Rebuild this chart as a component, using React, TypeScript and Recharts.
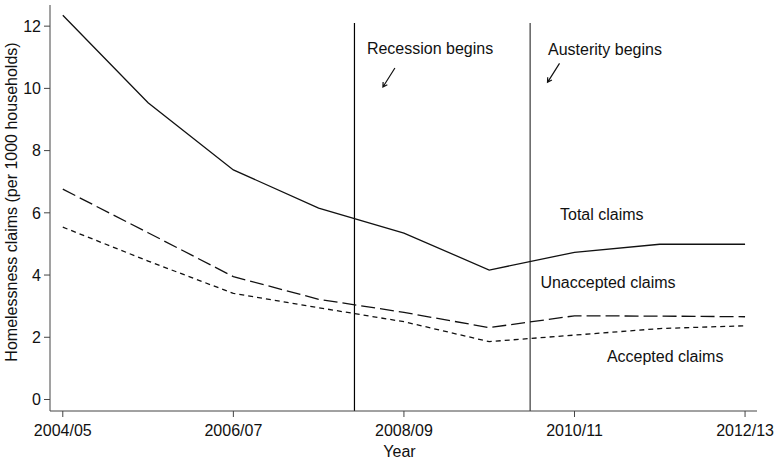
import {
  LineChart,
  Line,
  XAxis,
  YAxis,
  ReferenceLine,
  ReferenceDot,
} from "recharts";

const years = [
  "2004/05",
  "2005/06",
  "2006/07",
  "2007/08",
  "2008/09",
  "2009/10",
  "2010/11",
  "2011/12",
  "2012/13",
];
const totalClaims = [12.35, 9.54, 7.38, 6.15, 5.35, 4.16, 4.73, 4.99, 4.99];
const unacceptedClaims = [6.76, 5.36, 3.95, 3.22, 2.8, 2.31, 2.69, 2.68, 2.66];
const acceptedClaims = [5.54, 4.45, 3.41, 2.95, 2.5, 1.86, 2.07, 2.28, 2.37];
const yTicks = [0, 2, 4, 6, 8, 10, 12];
const xTicks = [0, 2, 4, 6, 8];

// events drawn as vertical lines (position in years from 2004/05)
const recessionAt = 3.42;
const austerityAt = 5.48;

const data = years.map((year, i) => ({
  i,
  year,
  total: totalClaims[i],
  unaccepted: unacceptedClaims[i],
  accepted: acceptedClaims[i],
}));

const Y_MIN = -0.37;
const Y_MAX = 12.68;
const FONT = "'Liberation Sans', Arial, sans-serif";
const AXIS = "#444";
const INK = "#111";

const notes = [
  { x: 3.566, y: 11.27, text: "Recession begins" },
  { x: 5.69, y: 11.24, text: "Austerity begins" },
  { x: 5.83, y: 5.96, text: "Total claims" },
  { x: 5.6, y: 3.75, text: "Unaccepted claims" },
  { x: 6.38, y: 1.37, text: "Accepted claims" },
];
const arrows = [
  { x: 3.824, y: 10.35 },
  { x: 5.754, y: 10.5 },
];

const Arrow = (p: any) => {
  const { cx, cy } = p;
  const tx = cx - 6;
  const ty = cy + 9.5;
  return (
    <path
      d={`M${cx + 6},${cy - 9.5} L${tx},${ty} M${tx + 4.4},${ty - 2.3} L${tx},${ty} L${tx + 0.2},${ty - 5}`}
      stroke={INK}
      strokeWidth={1.2}
      fill="none"
    />
  );
};

export default function App() {
  return (
    <div style={{ position: "absolute", left: 0, top: 0 }}>
      <LineChart
        width={776}
        height={460}
        data={data}
        margin={{ top: 5, right: 19, bottom: 9, left: 0 }}
      >
        <XAxis
          dataKey="i"
          type="number"
          domain={[-0.15, 8.14]}
          ticks={xTicks}
          tickFormatter={(v) => years[v]}
          allowDataOverflow
          height={40}
          stroke={AXIS}
          tickSize={6}
          tickMargin={8}
          tick={{ fill: INK, fontSize: 16, fontFamily: FONT }}
          label={{
            content: ({ viewBox }: any) => (
              <text
                x={viewBox.x + viewBox.width / 2 - 4}
                y={451}
                textAnchor="middle"
                dominantBaseline="central"
                fontSize={16}
                fontFamily={FONT}
                fill={INK}
              >
                Year
              </text>
            ),
          }}
        />
        <YAxis
          type="number"
          domain={[Y_MIN, Y_MAX]}
          ticks={yTicks}
          allowDataOverflow
          width={50}
          stroke={AXIS}
          tickSize={6}
          tickMargin={3}
          tick={{ fill: INK, fontSize: 16, fontFamily: FONT }}
          label={{
            content: () => {
              const cy = 202;
              return (
                <text
                  x={11}
                  y={cy}
                  transform={`rotate(-90, 11, ${cy})`}
                  textAnchor="middle"
                  dominantBaseline="central"
                  fontSize={16}
                  fontFamily={FONT}
                  fill={INK}
                >
                  Homelessness claims (per 1000 households)
                </text>
              );
            },
          }}
        />
        <ReferenceLine
          segment={[
            { x: recessionAt, y: Y_MIN },
            { x: recessionAt, y: 12.1 },
          ]}
          stroke="#000"
          strokeWidth={1.2}
        />
        <ReferenceLine
          segment={[
            { x: austerityAt, y: Y_MIN },
            { x: austerityAt, y: 12.1 },
          ]}
          stroke="#555"
          strokeWidth={1.4}
        />
        <Line
          dataKey="total"
          stroke={INK}
          strokeWidth={1.3}
          dot={false}
          isAnimationActive={false}
        />
        <Line
          dataKey="unaccepted"
          stroke={INK}
          strokeWidth={1.3}
          strokeDasharray="14 5"
          dot={false}
          isAnimationActive={false}
        />
        <Line
          dataKey="accepted"
          stroke={INK}
          strokeWidth={1.3}
          strokeDasharray="5 4"
          dot={false}
          isAnimationActive={false}
        />
        {notes.map((n, k) => (
          <ReferenceDot
            key={k}
            x={n.x}
            y={n.y}
            r={0}
            shape={(p: any) => (
              <text
                x={p.cx}
                y={p.cy}
                textAnchor="start"
                dominantBaseline="central"
                fontSize={16}
                fontFamily={FONT}
                fill={INK}
              >
                {n.text}
              </text>
            )}
          />
        ))}
        {arrows.map((a, k) => (
          <ReferenceDot key={"a" + k} x={a.x} y={a.y} r={0} shape={Arrow} />
        ))}
      </LineChart>
    </div>
  );
}
